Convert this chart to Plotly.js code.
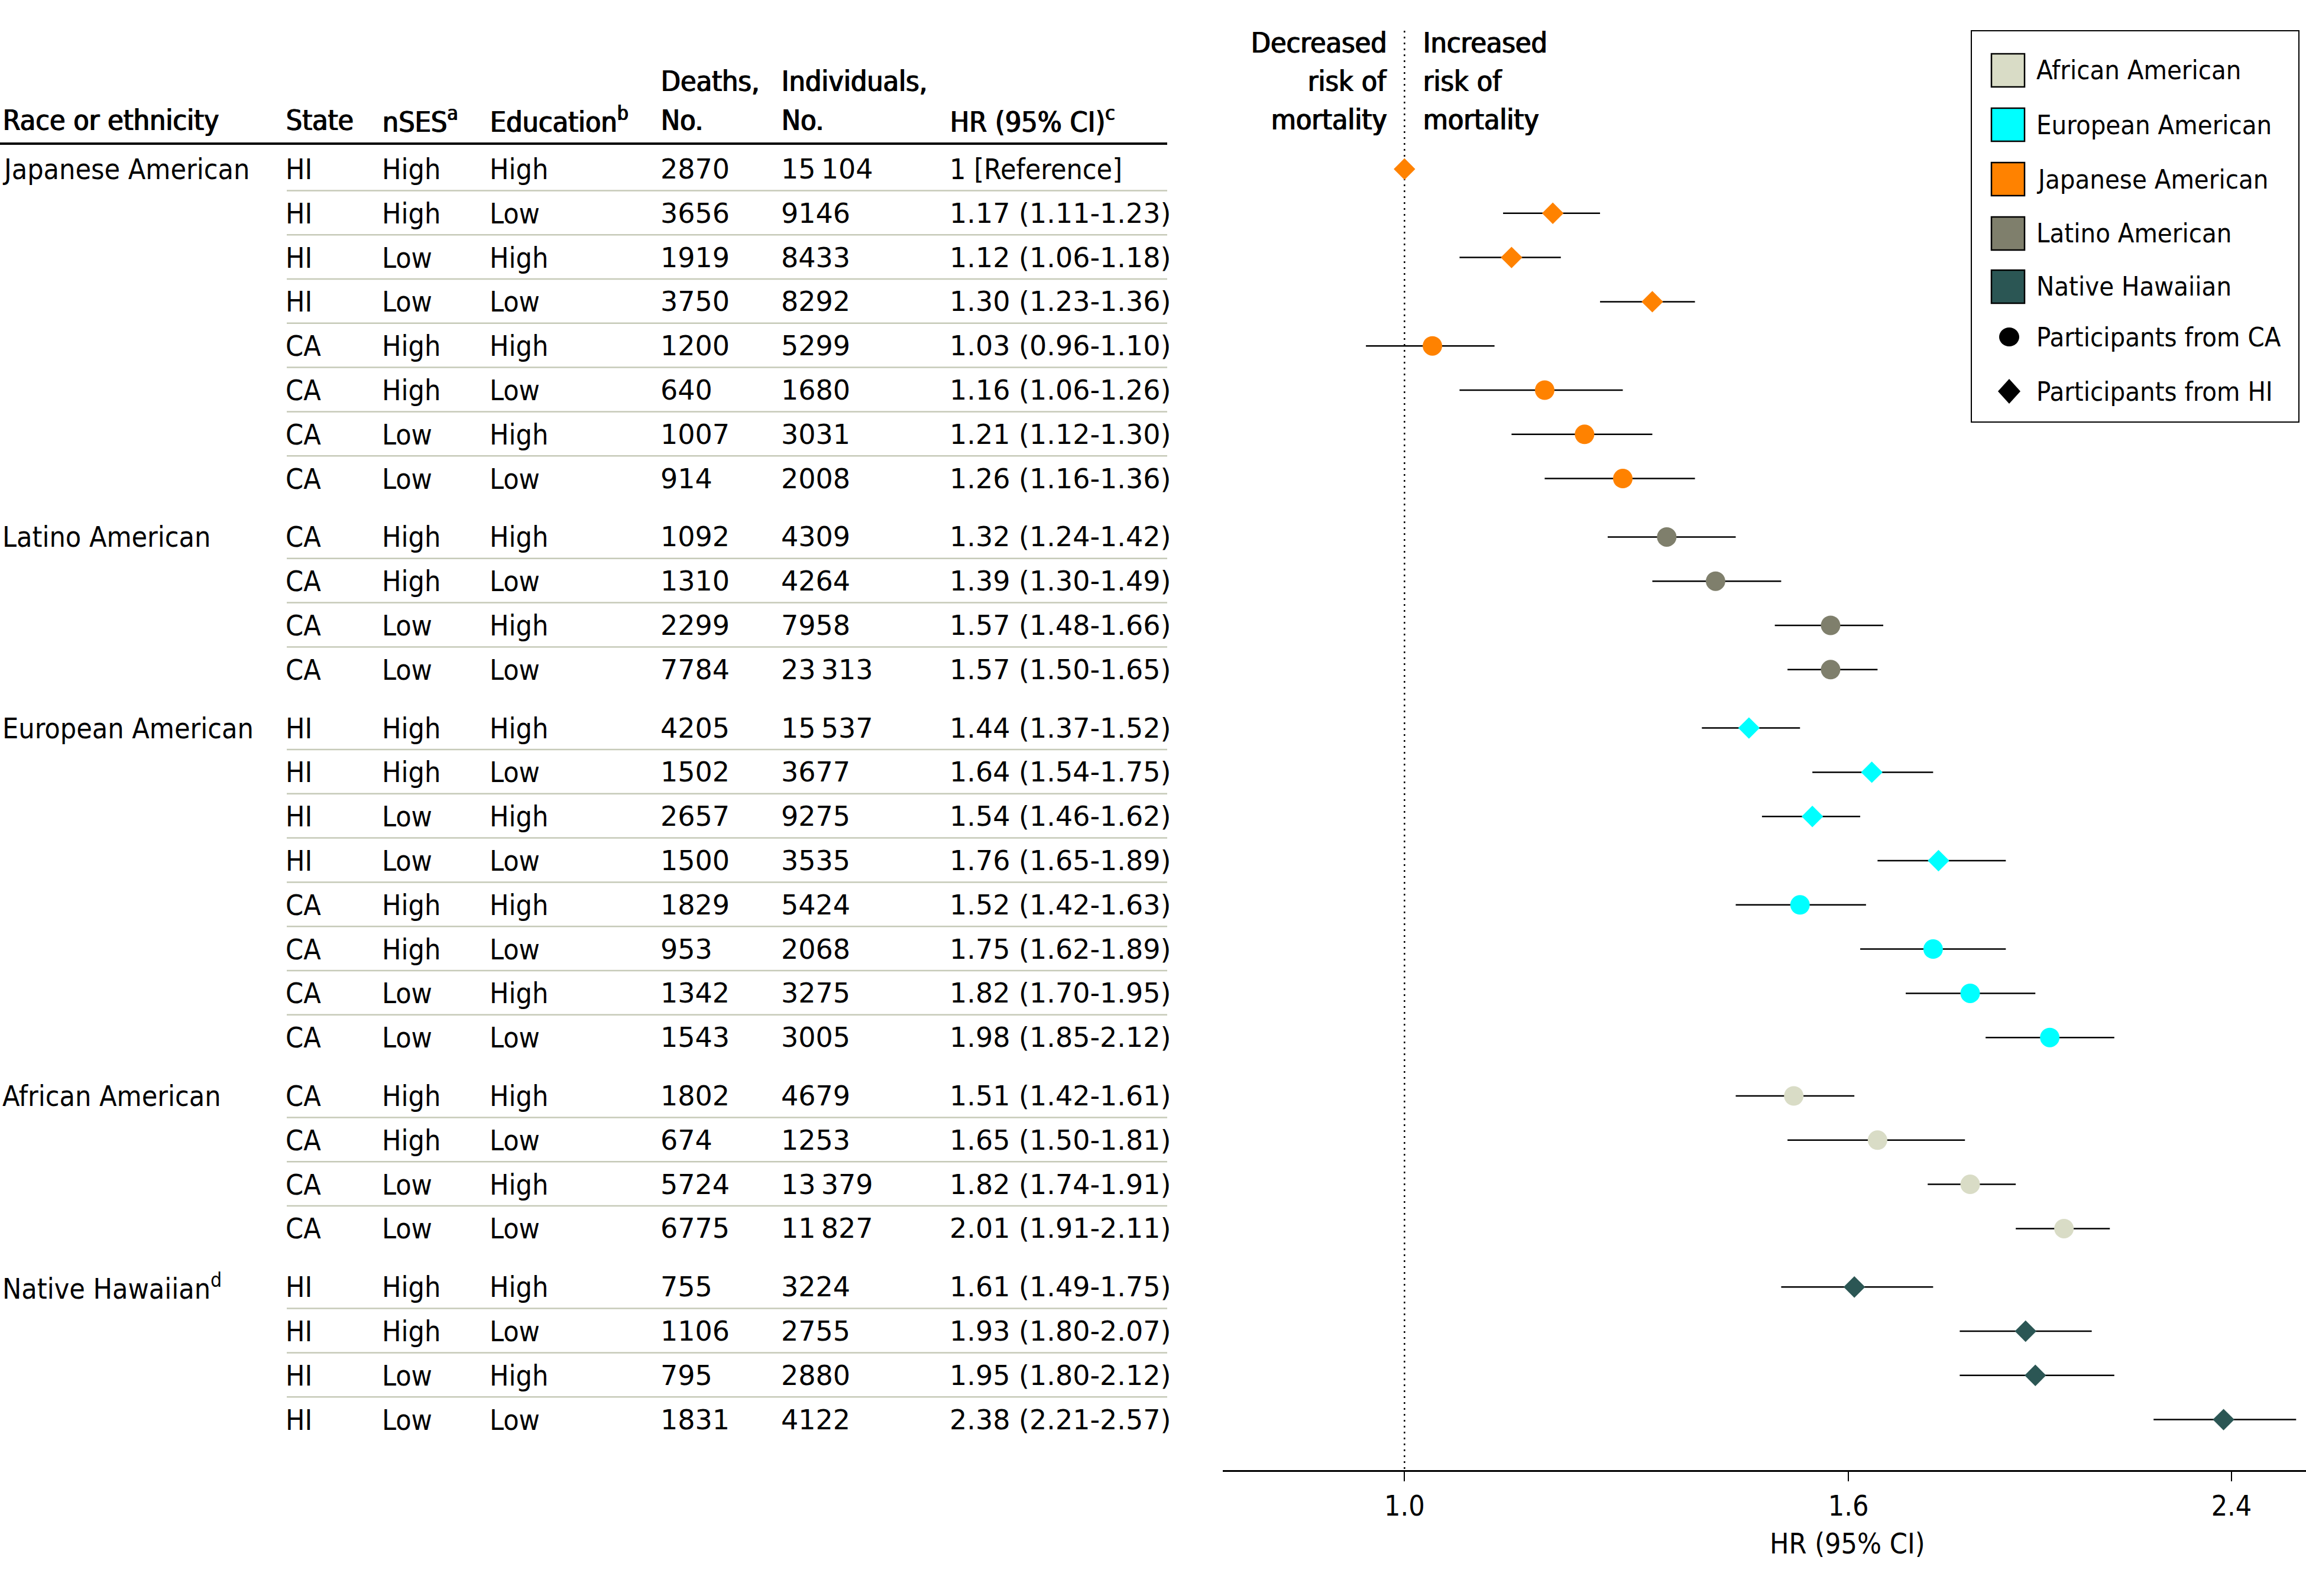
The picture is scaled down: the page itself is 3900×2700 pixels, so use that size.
<!DOCTYPE html>
<html><head><meta charset="utf-8">
<script src="https://cdn.plot.ly/plotly-3.0.1.min.js"></script>
<style>html,body{margin:0;padding:0;background:#fff}</style>
</head><body><div id="chart" style="width:3900px;height:2700px"></div>
<script>
// ---------------- data ----------------
const groups = ["Japanese American", "Latino American", "European American", "African American", "Native Hawaiian"];
const groupLabels = ["Japanese American", "Latino American", "European American", "African American", "Native Hawaiian<sup>d</sup>"];
const groupSizes = [8, 4, 8, 4, 4];
const groupColors = ["#FF8200", "#7F7F6C", "#00FFFF", "#D9DCC6", "#2B5654"];

const state = ["HI","HI","HI","HI","CA","CA","CA","CA",
               "CA","CA","CA","CA",
               "HI","HI","HI","HI","CA","CA","CA","CA",
               "CA","CA","CA","CA",
               "HI","HI","HI","HI"];
const nses = ["High","High","Low","Low","High","High","Low","Low",
              "High","High","Low","Low",
              "High","High","Low","Low","High","High","Low","Low",
              "High","High","Low","Low",
              "High","High","Low","Low"];
const education = ["High","Low","High","Low","High","Low","High","Low",
                   "High","Low","High","Low",
                   "High","Low","High","Low","High","Low","High","Low",
                   "High","Low","High","Low",
                   "High","Low","High","Low"];
const deaths = [2870,3656,1919,3750,1200,640,1007,914,
                1092,1310,2299,7784,
                4205,1502,2657,1500,1829,953,1342,1543,
                1802,674,5724,6775,
                755,1106,795,1831];
const individuals = [15104,9146,8433,8292,5299,1680,3031,2008,
                     4309,4264,7958,23313,
                     15537,3677,9275,3535,5424,2068,3275,3005,
                     4679,1253,13379,11827,
                     3224,2755,2880,4122];
const hr = [1.00,1.17,1.12,1.30,1.03,1.16,1.21,1.26,
            1.32,1.39,1.57,1.57,
            1.44,1.64,1.54,1.76,1.52,1.75,1.82,1.98,
            1.51,1.65,1.82,2.01,
            1.61,1.93,1.95,2.38];
const ciLow = [null,1.11,1.06,1.23,0.96,1.06,1.12,1.16,
               1.24,1.30,1.48,1.50,
               1.37,1.54,1.46,1.65,1.42,1.62,1.70,1.85,
               1.42,1.50,1.74,1.91,
               1.49,1.80,1.80,2.21];
const ciHigh = [null,1.23,1.18,1.36,1.10,1.26,1.30,1.36,
                1.42,1.49,1.66,1.65,
                1.52,1.75,1.62,1.89,1.63,1.89,1.95,2.12,
                1.61,1.81,1.91,2.11,
                1.75,2.07,2.12,2.57];
const xTickVals = [1.0, 1.6, 2.4];
const xTickText = ["1.0", "1.6", "2.4"];

// ---------------- layout helpers ----------------
const W = 3900, H = 2700;
const FONT = "DejaVu Sans Condensed, DejaVu Sans, sans-serif";
const NUMFONT = { family: "DejaVu Sans, sans-serif", size: 46, color: "#000" };
const FS = 48;
const AXIS_Y = 2487;
const PX = p => p / W;
const PY = p => 1 - p / H;
const ROW0 = 286, STEP = 74.8, GAP = 24;
const HEAVY = { family: FONT, size: FS, color: "#000", shadow: "1.6px 0px 0px #000" };

const rowGroup = [];
groupSizes.forEach((n, g) => { for (let i = 0; i < n; i++) rowGroup.push(g); });
const rowY = rowGroup.map((g, k) => ROW0 + k * STEP + g * GAP);

function fmtN(n) {
  const s = String(n);
  return n >= 10000 ? s.slice(0, s.length - 3) + "\u2009" + s.slice(-3) : s;
}
function fmtHR(i) {
  if (ciLow[i] === null) return "1 [Reference]";
  return hr[i].toFixed(2) + " (" + ciLow[i].toFixed(2) + "-" + ciHigh[i].toFixed(2) + ")";
}

// ---------------- traces ----------------
const traces = [];
let start = 0;
groups.forEach((name, g) => {
  const idx = [];
  for (let i = start; i < start + groupSizes[g]; i++) idx.push(i);
  start += groupSizes[g];
  traces.push({
    type: "scatter", mode: "markers", name: name,
    x: idx.map(i => hr[i]),
    y: idx.map(i => rowY[i]),
    marker: {
      color: groupColors[g], opacity: 1,
      symbol: idx.map(i => state[i] === "HI" ? "diamond" : "circle"),
      size: idx.map(i => state[i] === "HI" ? 28 : 33),
      line: { width: 0 }
    },
    error_x: {
      type: "data", symmetric: false,
      array: idx.map(i => ciHigh[i] === null ? 0 : ciHigh[i] - hr[i]),
      arrayminus: idx.map(i => ciLow[i] === null ? 0 : hr[i] - ciLow[i]),
      width: 0, thickness: 2.5, color: "#000"
    },
    hoverinfo: "skip", showlegend: false
  });
});

// ---------------- annotations / shapes ----------------
const ann = [];
const shapes = [];
function txt(text, px, py, opts = {}) {
  ann.push(Object.assign({
    text: text, xref: "paper", yref: "paper", x: PX(px), y: PY(py),
    xanchor: "left", yanchor: "middle", showarrow: false,
    font: { family: FONT, size: FS, color: "#000" }
  }, opts));
}
const COLX = { race: 2, state: 481, nses: 644, edu: 826, deaths: 1115, indiv: 1319, hr: 1604 };

// header
const HB = 203, HT = 137;
txt("Race or ethnicity", COLX.race, HB, { font: HEAVY });
txt("State", COLX.state, HB, { font: HEAVY });
txt("nSES<sup>a</sup>", COLX.nses, HB, { font: HEAVY });
txt("Education<sup>b</sup>", COLX.edu, HB, { font: HEAVY });
txt("Deaths,", COLX.deaths, HT, { font: HEAVY });
txt("No.", COLX.deaths, HB, { font: HEAVY });
txt("Individuals,", COLX.indiv, HT, { font: HEAVY });
txt("No.", COLX.indiv, HB, { font: HEAVY });
txt("HR (95% CI)<sup>c</sup>", COLX.hr, HB, { font: HEAVY });
shapes.push({ type: "line", xref: "paper", yref: "paper", x0: PX(0), x1: PX(1974), y0: PY(243), y1: PY(243),
              line: { color: "#000", width: 4 } });

// rows
let prevG = -1;
rowY.forEach((y, i) => {
  const g = rowGroup[i];
  if (g !== prevG) { txt(groupLabels[g], COLX.race, y); prevG = g; }
  txt(state[i], COLX.state, y);
  txt(nses[i], COLX.nses, y);
  txt(education[i], COLX.edu, y);
  txt(fmtN(deaths[i]), COLX.deaths, y, { font: NUMFONT });
  txt(fmtN(individuals[i]), COLX.indiv, y, { font: NUMFONT });
  txt(fmtHR(i), COLX.hr, y, ciLow[i] === null ? {} : { font: NUMFONT });
  if (i + 1 < rowY.length && rowGroup[i + 1] === g) {
    const sy = (y + rowY[i + 1]) / 2 - 1;
    shapes.push({ type: "line", xref: "paper", yref: "paper", x0: PX(485), x1: PX(1974), y0: PY(sy), y1: PY(sy),
                  line: { color: "#C6CAB8", width: 2.5 } });
  }
});

// risk labels
[["Decreased", 72], ["risk of", 137], ["mortality", 202]].forEach(([t, y]) =>
  txt(t, 2347, y, { xanchor: "right", font: HEAVY }));
[["Increased", 72], ["risk of", 137], ["mortality", 202]].forEach(([t, y]) =>
  txt(t, 2404, y, { font: HEAVY }));

// reference line at HR = 1
shapes.push({ type: "line", xref: "x", yref: "y", x0: 1, x1: 1, y0: 52, y1: AXIS_Y, layer: "below",
              line: { color: "#000", width: 2.5, dash: "3px,7px" } });

// axis title
txt("HR (95% CI)", 3124, 2611, { xanchor: "center" });

// legend
shapes.push({ type: "rect", xref: "paper", yref: "paper", x0: PX(3334), x1: PX(3888), y0: PY(52), y1: PY(714),
              line: { color: "#000", width: 2 }, fillcolor: "rgba(0,0,0,0)" });
const legY = [119, 211, 303, 395, 485];
const legOrder = [3, 2, 0, 1, 4];
const LEGFONT = { family: FONT, size: 45, color: "#000" };
legOrder.forEach((g, j) => {
  const cy = legY[j];
  shapes.push({ type: "rect", xref: "paper", yref: "paper", x0: PX(3368), x1: PX(3424), y0: PY(cy - 28), y1: PY(cy + 28),
                fillcolor: groupColors[g], line: { color: "#000", width: 2.5 } });
  txt(groups[g], 3442, cy, { font: LEGFONT });
});
shapes.push({ type: "circle", xref: "paper", yref: "paper", x0: PX(3381), x1: PX(3415), y0: PY(570 - 16), y1: PY(570 + 16),
              fillcolor: "#000", line: { width: 0 } });
txt("Participants from CA", 3442, 570, { font: LEGFONT });
{
  const cx = 3398, cy = 662, hw = 19, hh = 21;
  const p = (x, y) => PX(x) + "," + PY(y);
  shapes.push({ type: "path", xref: "paper", yref: "paper",
                path: "M" + p(cx, cy - hh) + " L" + p(cx + hw, cy) + " L" + p(cx, cy + hh) + " L" + p(cx - hw, cy) + " Z",
                fillcolor: "#000", line: { width: 0 } });
}
txt("Participants from HI", 3442, 662, { font: LEGFONT });

const layout = {
  width: W, height: H,
  margin: { l: 0, r: 0, t: 0, b: 0, pad: 0 },
  paper_bgcolor: "#fff", plot_bgcolor: "rgba(0,0,0,0)",
  showlegend: false,
  font: { family: FONT, size: FS, color: "#000" },
  xaxis: {
    type: "log", domain: [2068 / W, 1],
    range: [Math.log10(0.825), Math.log10(2.597)],
    tickmode: "array", tickvals: xTickVals, ticktext: xTickText,
    ticks: "outside", ticklen: 16, tickwidth: 2, tickcolor: "#000",
    showline: true, linewidth: 3, linecolor: "#000",
    showgrid: false, zeroline: false,
    tickfont: { family: FONT, size: FS, color: "#000" },
    fixedrange: true
  },
  yaxis: {
    domain: [(H - AXIS_Y) / H, 1], range: [AXIS_Y, 0],
    visible: false, showgrid: false, zeroline: false, fixedrange: true
  },
  annotations: ann,
  shapes: shapes
};

Plotly.newPlot("chart", traces, layout, { displayModeBar: false, staticPlot: true });
</script>
</body></html>
